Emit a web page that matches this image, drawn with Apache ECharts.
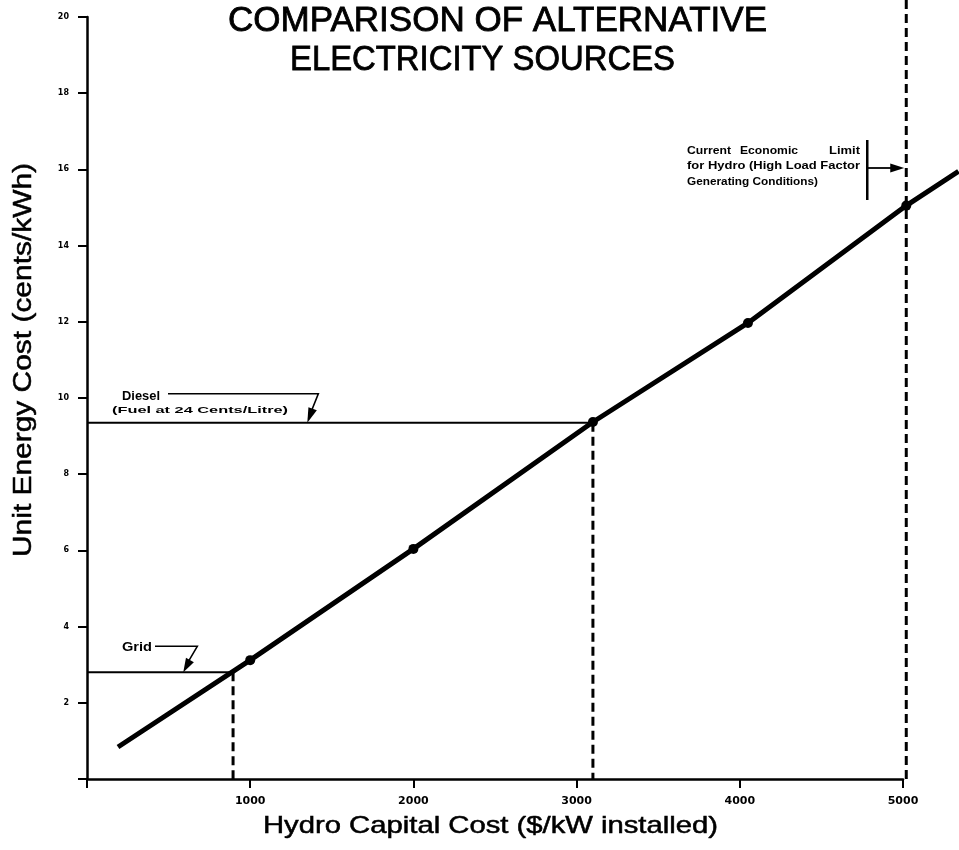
<!DOCTYPE html>
<html><head><meta charset="utf-8">
<script src="https://cdn.jsdelivr.net/npm/echarts@6/dist/echarts.min.js"></script>
<style>html,body{margin:0;padding:0;background:#fff}#c{width:959px;height:850px}</style>
</head><body><div id="c"></div>
<script>
// ---- data ----
const hydroCost = [190, 1000, 2000, 3100, 4050, 5020, 5340];   // $/kW installed
const unitCost  = [0.84, 3.12, 6.04, 9.37, 11.97, 15.05, 15.95]; // cents/kWh
const dotIdx = [1, 2, 3, 4, 5];
const xTickValues = [1000, 2000, 3000, 4000, 5000];
const yTickValues = [2, 4, 6, 8, 10, 12, 14, 16, 18, 20];
const gridCost = 2.8, gridBreakEven = 895;
const dieselCost = 9.35, dieselBreakEven = 3100;
const hydroLimit = 5020;
const titleLines = ['COMPARISON OF ALTERNATIVE', 'ELECTRICITY SOURCES'];
const xName = 'Hydro Capital Cost ($/kW installed)';
const yName = 'Unit Energy Cost (cents/kWh)';

const FF = '"Liberation Sans", Arial, sans-serif';
const FD = '"DejaVu Sans", sans-serif';
const W = 959, H = 850;
const chart = echarts.init(document.getElementById('c'), null, {renderer: 'canvas'});

// visible axes: 0..5000 x, 0..20 y ; data layer: same scale, extent up to the canvas edges
const G = {left: 87, right: 56, top: 17, bottom: 71};
const pxPerX = (W - G.left - G.right) / 5000;
const pxPerY = (H - G.top - G.bottom) / 20;
const dataXMax = (W - G.left) / pxPerX;
const dataYMax = (H - G.bottom) / pxPerY;
const G2 = {left: G.left, top: 0, width: W - G.left, height: H - G.bottom};

const mainData = hydroCost.map((x, i) => ({
  value: [x, unitCost[i]],
  symbolSize: dotIdx.includes(i) ? 10 : 0
}));
const dash = () => ({color: '#000', width: 3, type: [9, 5]});
const solid = () => ({color: '#000', width: 2});
const hidden = {show: false};

const option = {
  backgroundColor: '#fff',
  animation: false,
  grid: [
    Object.assign({containLabel: false}, G),
    Object.assign({containLabel: false}, G2)
  ],
  xAxis: [{
    type: 'value', min: 0, max: 5000, interval: 1000, gridIndex: 0,
    axisLine: {lineStyle: {color: '#000', width: 2.5}},
    axisTick: {length: 9, lineStyle: {color: '#000', width: 2}},
    splitLine: hidden,
    axisLabel: {
      margin: 17, color: '#000', fontFamily: FD, fontWeight: 'bold', fontSize: 11,
      formatter: v => xTickValues.includes(v) ? String(v) : ''
    }
  }, {
    type: 'value', min: 0, max: dataXMax, gridIndex: 1,
    axisLine: hidden, axisTick: hidden, axisLabel: hidden, splitLine: hidden
  }],
  yAxis: [{
    type: 'value', min: 0, max: 20, interval: 2, gridIndex: 0,
    axisLine: {lineStyle: {color: '#000', width: 2.5}},
    axisTick: {length: 9, lineStyle: {color: '#000', width: 2}},
    splitLine: hidden,
    axisLabel: {
      margin: 18, color: '#000', fontFamily: FD, fontWeight: 'bold', fontSize: 8,
      formatter: v => yTickValues.includes(v) ? String(v) : ''
    }
  }, {
    type: 'value', min: 0, max: dataYMax, gridIndex: 1,
    axisLine: hidden, axisTick: hidden, axisLabel: hidden, splitLine: hidden
  }],
  series: [
    {type: 'line', xAxisIndex: 1, yAxisIndex: 1, data: mainData, symbol: 'circle',
     lineStyle: {color: '#000', width: 5}, itemStyle: {color: '#000'}, z: 5},
    {type: 'line', xAxisIndex: 1, yAxisIndex: 1, data: [[0, gridCost], [gridBreakEven, gridCost]],
     symbol: 'none', lineStyle: solid()},
    {type: 'line', xAxisIndex: 1, yAxisIndex: 1, data: [[gridBreakEven, gridCost], [gridBreakEven, 0]],
     symbol: 'none', lineStyle: dash()},
    {type: 'line', xAxisIndex: 1, yAxisIndex: 1, data: [[0, dieselCost], [dieselBreakEven, dieselCost]],
     symbol: 'none', lineStyle: solid()},
    {type: 'line', xAxisIndex: 1, yAxisIndex: 1, data: [[dieselBreakEven, dieselCost], [dieselBreakEven, 0]],
     symbol: 'none', lineStyle: dash()},
    {type: 'line', xAxisIndex: 1, yAxisIndex: 1, data: [[hydroLimit, dataYMax], [hydroLimit, 0]],
     symbol: 'none', lineStyle: dash()}
  ]
};
chart.setOption(option);

// ---- annotation helpers ----
const mctx = document.createElement('canvas').getContext('2d');
function fontStr(size, weight, fam) { return (weight || 'normal') + ' ' + size + 'px ' + (fam || FF); }
// text placed from left edge x to width w (horizontally stretched like the scanned lettering)
function stext(x, y, text, size, weight, w, extra, strokeW) {
  const f = fontStr(size, weight);
  mctx.font = f;
  const nat = mctx.measureText(text).width;
  const st = {text: text, fill: '#000', font: f, textAlign: 'left', textVerticalAlign: 'middle'};
  if (strokeW) { st.stroke = '#000'; st.lineWidth = strokeW; }
  return Object.assign({type: 'text', x: x, y: y, scaleX: w ? w / nat : 1, style: st}, extra || {});
}
function arrowHead(tip, from, len, half) {
  const dx = tip[0] - from[0], dy = tip[1] - from[1];
  const d = Math.hypot(dx, dy), ux = dx / d, uy = dy / d;
  const bx = tip[0] - ux * len, by = tip[1] - uy * len;
  return {type: 'polygon', shape: {points: [tip, [bx - uy * half, by + ux * half], [bx + uy * half, by - ux * half]]},
          style: {fill: '#000'}};
}
const px = (x, y) => chart.convertToPixel({gridIndex: 1}, [x, y]);

const pDiesel = px(1350, dieselCost);
const pGrid = px(590, gridCost);
const pLimit = px(hydroLimit, 15.9);
const dieselCorner = [pDiesel[0] + 11, pDiesel[1] - 29];
const gridCorner = [pGrid[0] + 14, pGrid[1] - 26];
const limitBarX = pLimit[0] - 39;

chart.setOption({
  graphic: [
    stext(228, 21, titleLines[0], 35, 'normal', 539, null, 0.8),
    stext(290, 60, titleLines[1], 35, 'normal', 385, null, 0.8),
    stext(263, 826, xName, 24, 'normal', 455, null, 0.5),
    stext(24, 557, yName, 26, 'normal', 394, {rotation: Math.PI / 2}, 0.5),
    // Diesel
    stext(122, 397, 'Diesel', 12, 'bold', 38),
    stext(112, 411, '(Fuel at 24 Cents/Litre)', 9, 'bold', 176),
    {type: 'polyline', shape: {points: [[168, dieselCorner[1]], dieselCorner, [pDiesel[0] + 3, pDiesel[1] - 9]]},
     style: {stroke: '#000', lineWidth: 1.6, fill: null}},
    arrowHead(pDiesel, dieselCorner, 15, 4.5),
    // Grid
    stext(122, 648, 'Grid', 12, 'bold', 30),
    {type: 'polyline', shape: {points: [[155, gridCorner[1]], gridCorner, [pGrid[0] + 4, pGrid[1] - 9]]},
     style: {stroke: '#000', lineWidth: 1.6, fill: null}},
    arrowHead(pGrid, gridCorner, 14, 4.5),
    // Current economic limit
    stext(687, 151, 'Current', 11, 'bold', 44),
    stext(740, 151, 'Economic', 11, 'bold', 58),
    stext(829, 151, 'Limit', 11, 'bold', 31),
    stext(687, 166, 'for Hydro (High Load Factor', 11, 'bold', 173),
    stext(687, 182, 'Generating Conditions)', 11, 'bold', 131),
    {type: 'line', shape: {x1: limitBarX, y1: 140, x2: limitBarX, y2: 200}, style: {stroke: '#000', lineWidth: 2.5}},
    {type: 'line', shape: {x1: limitBarX, y1: 168, x2: pLimit[0] - 10, y2: 168}, style: {stroke: '#000', lineWidth: 1.8}},
    arrowHead([pLimit[0] - 2, 168], [limitBarX, 168], 14, 4.5)
  ]
});
</script></body></html>
